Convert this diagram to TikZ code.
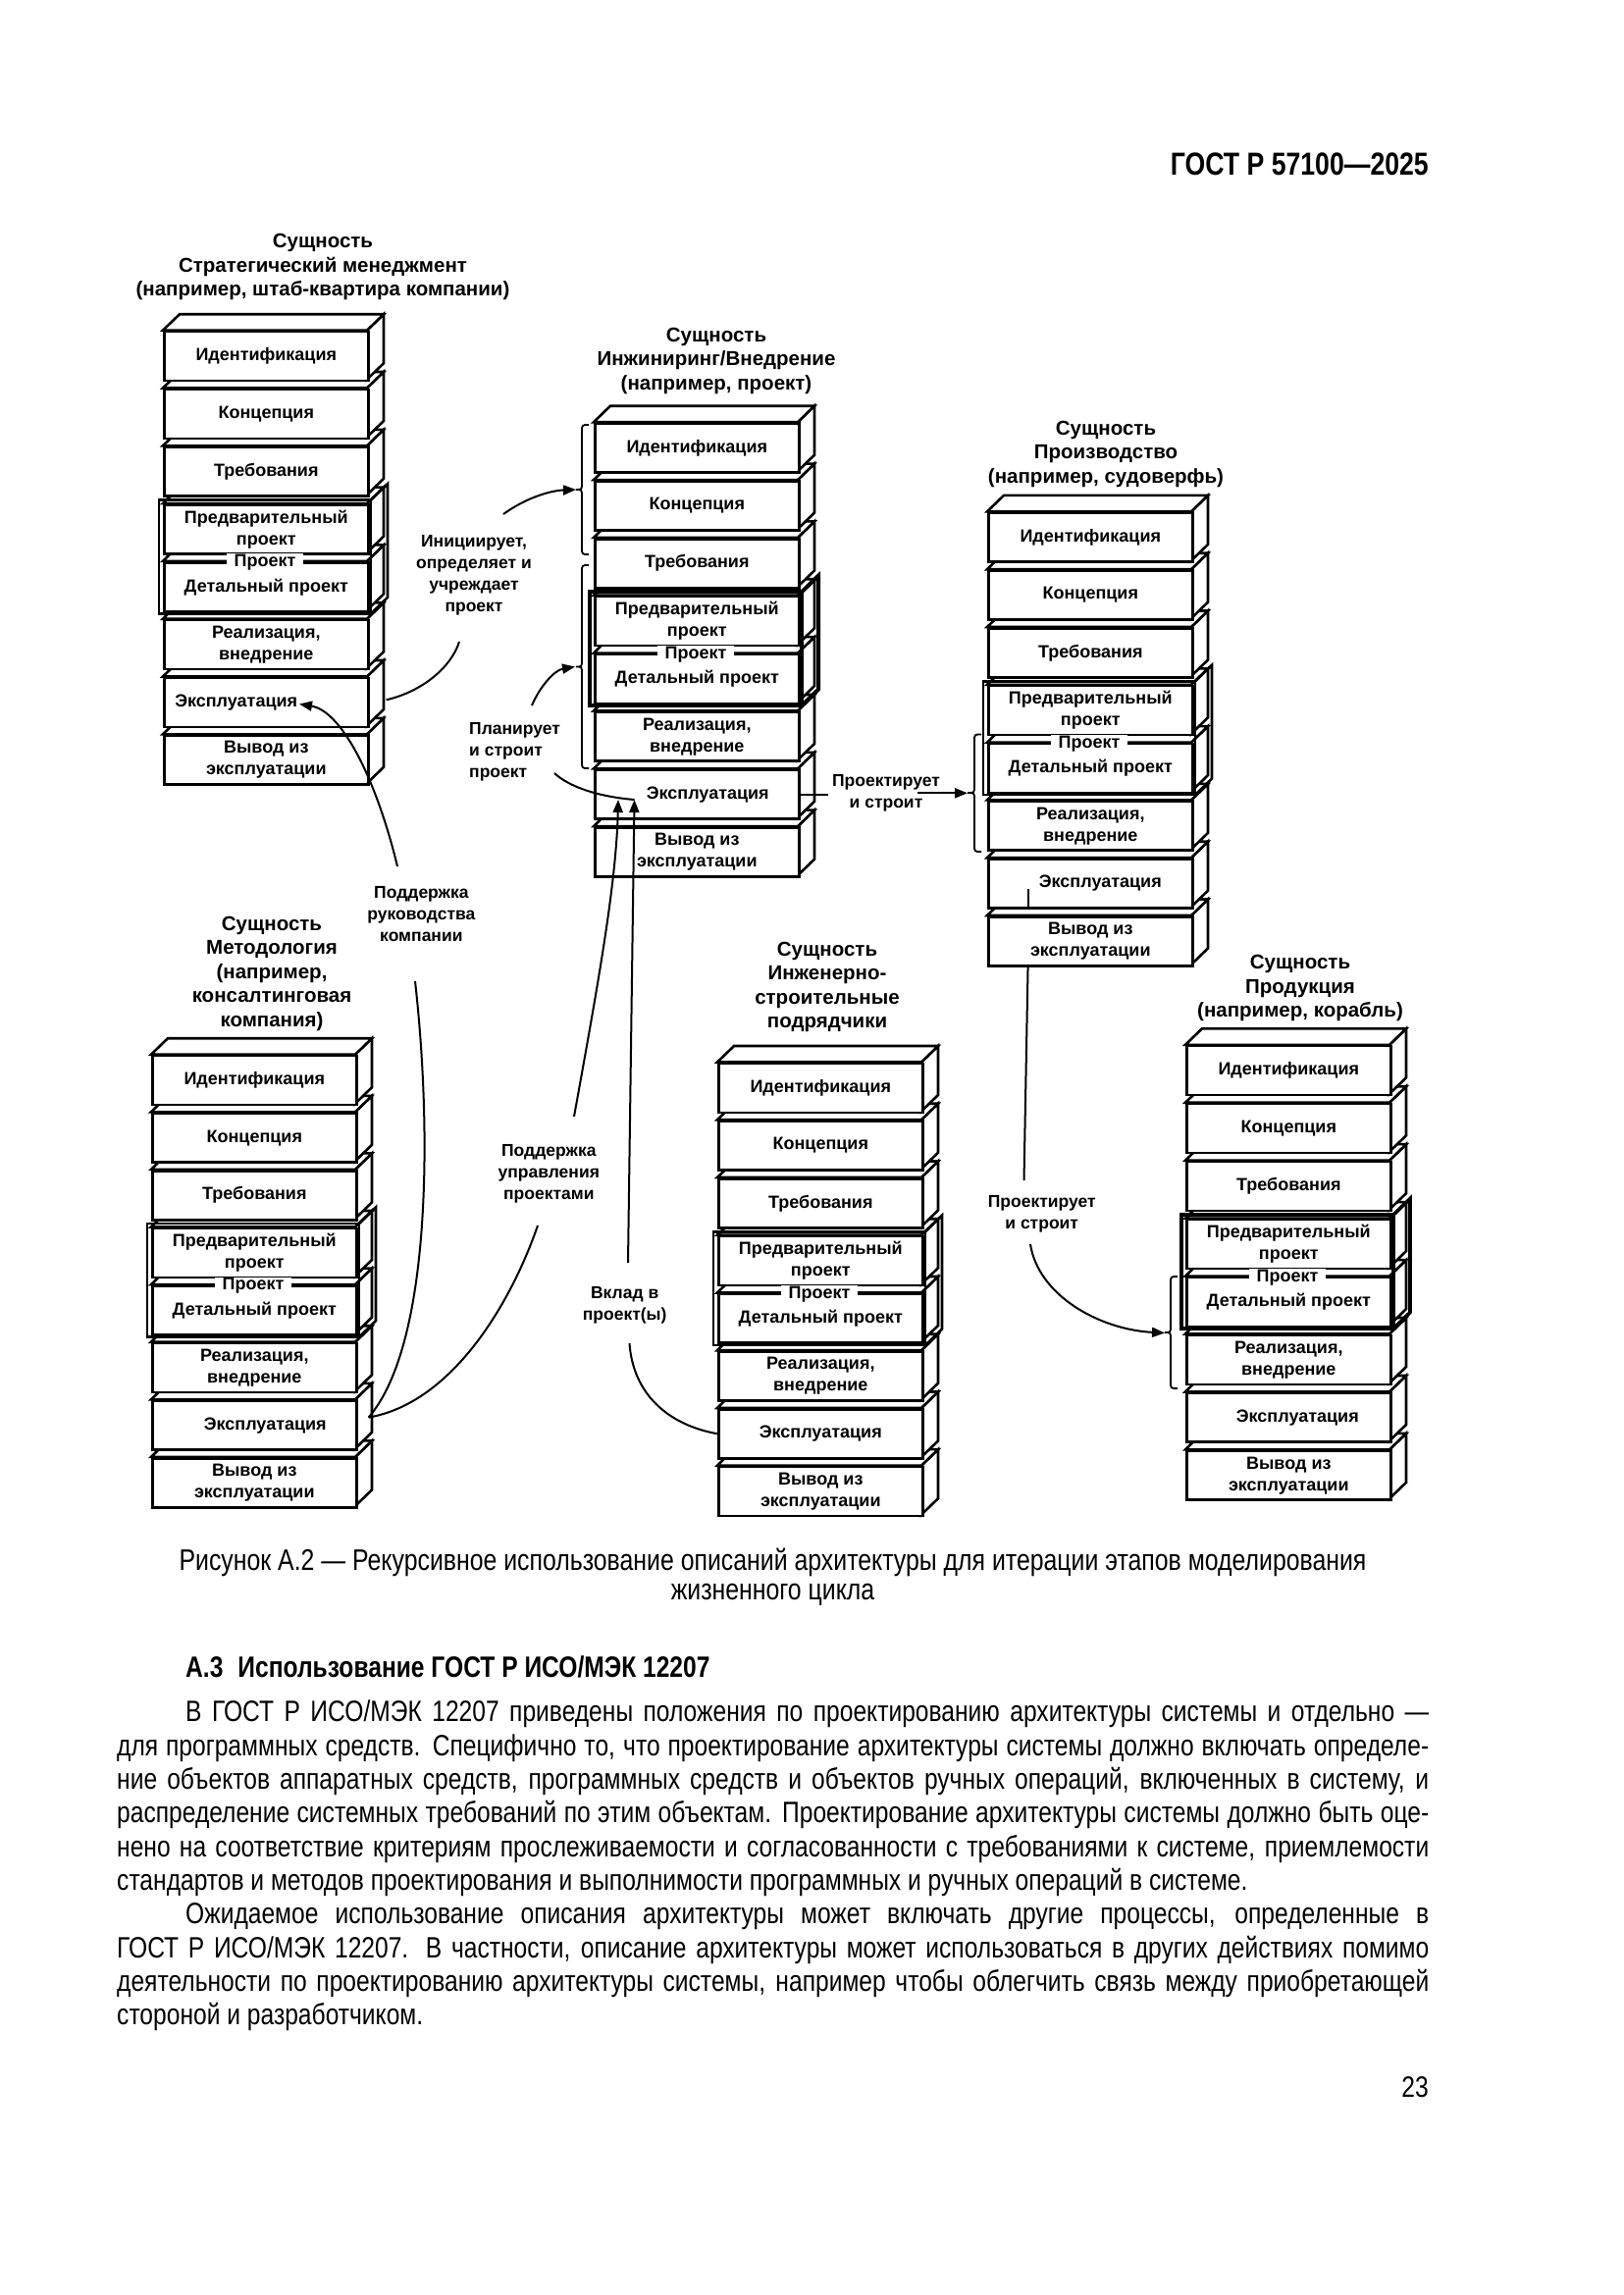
\documentclass[tikz,border=0pt]{standalone}
\usepackage{fontspec}
\setmainfont{Liberation Sans}
\newfontfamily\narrow[FakeStretch=0.82]{Liberation Sans}
\usetikzlibrary{arrows.meta,calc}
\newcommand\boxfont{\fontsize{18}{22}\selectfont\bfseries}
\newcommand\ttlfont{\fontsize{20.5}{24.5}\selectfont\bfseries}
\newcommand\lblfont{\fontsize{17.5}{22}\selectfont\bfseries}
% one cuboid: name, left x, top y, text
\newcommand\drawcube[4]{%
  \path[face] ({#2+208},{#3}) -- ++(17,-16.5) -- ++(0,50) -- ({#2+208},{#3+50}) -- cycle;
  \path[face] ({#2},{#3}) -- ++(17,-16.5) -- ++(208,0) -- ({#2+208},{#3}) -- cycle;
  \node[front] (#1) at ({#2},{#3}) {#4};
}
% stack: id, left x, top y, pitch, frame width, exploitation text
\newcommand\drawstack[6]{%
  \drawcube{#1-8}{#2}{#3+7*#4}{Вывод из\\эксплуатации}
  \drawcube{#1-7}{#2}{#3+6*#4}{#6}
  \drawcube{#1-6}{#2}{#3+5*#4}{Реализация,\\внедрение}
  \drawcube{#1-5}{#2}{#3+4*#4}{\raisebox{-5pt}{Детальный проект}}
  \drawcube{#1-4}{#2}{#3+3*#4}{Предварительный\\проект}
  \drawcube{#1-3}{#2}{#3+2*#4}{Требования}
  \drawcube{#1-2}{#2}{#3+1*#4}{Концепция}
  \drawcube{#1-1}{#2}{#3}{Идентификация}
  \draw[line width=#5] ({#2-4},{#3+3*#4-3.5}) rectangle ({#2+212},{#3+4*#4+53.5});
  \draw[line width=#5] ({#2+212},{#3+3*#4-3.5}) -- ++(17,-16.5) -- ({#2+229},{#3+4*#4+37}) -- ({#2+212},{#3+4*#4+53.5});
  \node[projlbl] (#1-p) at ({#2+104},{#3+4*#4+1.5}) {Проект};
}
% left brace: hook x, line x, tip x, top y, bottom y, mid y
\newcommand\drawbrace[6]{%
  \draw[brc] (#1,#4) .. controls (#2,#4) .. (#2,{#4+7}) -- (#2,{#6-7})
    .. controls (#2,#6) .. (#3,#6) .. controls (#2,#6) .. (#2,{#6+7})
    -- (#2,{#5-7}) .. controls (#2,#5) .. (#1,#5);
}
\begin{document}
\begin{tikzpicture}[x=1pt,y=-1pt,
  face/.style={draw, fill=white, line width=2.6pt},
  front/.style={face, minimum width=208pt, minimum height=50pt, inner sep=0pt, anchor=north west, align=center, font=\boxfont},
  projlbl/.style={fill=white, inner xsep=8pt, inner ysep=1pt, font=\boxfont},
  ttl/.style={align=center, inner sep=0pt, font=\ttlfont},
  lbl/.style={align=center, inner sep=0pt, font=\lblfont},
  con/.style={draw, line width=2pt},
  arr/.style={con, -{Triangle[length=13pt,width=10pt]}},
  brc/.style={draw, line width=1.8pt},
]
\fill[white] (0,0) rectangle (1654,2339);
\useasboundingbox (0,0) rectangle (1654,2339);

% header
\node[anchor=east, inner sep=0pt, font=\narrow\bfseries\fontsize{32.5}{36}\selectfont] (hdr) at (1456,167) {ГОСТ Р 57100—2025};

% titles
\node[ttl] (t1) at (329,272.3) {Сущность\\Стратегический менеджмент\\(например, штаб-квартира компании)};
\node[ttl] (t2) at (730,367.8) {Сущность\\Инжиниринг/Внедрение\\(например, проект)};
\node[ttl] (t3) at (1127,462.7) {Сущность\\Производство\\(например, судоверфь)};
\node[ttl] (t4) at (277,992) {Сущность\\Методология\\(например,\\консалтинговая\\компания)};
\node[ttl] (t5) at (843,1006) {Сущность\\Инженерно-\\строительные\\подрядчики};
\node[ttl] (t6) at (1325,1007.4) {Сущность\\Продукция\\(например, корабль)};

% stacks
\drawstack{s1}{166}{336.7}{58.8}{2.6pt}{\makebox[208pt][l]{\hspace{11pt}Эксплуатация}}
\drawstack{s2}{605}{430.2}{58.85}{4pt}{\hspace*{22pt}Эксплуатация}
\drawstack{s3}{1006}{521.4}{58.8}{2.6pt}{\hspace*{20pt}Эксплуатация}
\drawstack{s4}{154}{1074.7}{58.6}{2.6pt}{\hspace*{22pt}Эксплуатация}
\drawstack{s5}{731}{1082.5}{58.74}{2.6pt}{Эксплуатация}
\drawstack{s6}{1208}{1064.8}{58.94}{3.6pt}{\hspace*{18pt}Эксплуатация}

% braces
\drawbrace{600}{593}{587}{433}{565}{499}
\drawbrace{600}{593}{587}{576}{783}{679.5}
\drawbrace{1000}{993}{986}{748.5}{868}{808}
\drawbrace{1200}{1193}{1187}{1301}{1415}{1358}

% labels
\node[lbl] (linit) at (483,585.8) {Инициирует,\\определяет и\\учреждает\\проект};
\node[lbl, align=left, anchor=west] (lplan) at (478,766.7) {Планирует\\и строит\\проект};
\node[lbl] (lruk) at (429.4,931.3) {Поддержка\\руководства\\компании};
\node[lbl] (lupr) at (559.3,1196) {Поддержка\\управления\\проектами};
\node[lbl] (lvklad) at (636.7,1330.6) {Вклад в\\проект(ы)};
\node[lbl] (lproj1) at (903,808) {Проектирует\\и строит};
\node[lbl] (lproj2) at (1061.7,1237) {Проектирует\\и строит};

% connector ends
\coordinate (b1tip) at (587,499);
\coordinate (b2tip) at (586,679.5);
\coordinate (b3tip) at (986,808.3);
\coordinate (b4tip) at (1187,1358.5);
\coordinate (initin) at (468,654);
\coordinate (initout) at (513,524);
\coordinate (planout) at (542,719);
\coordinate (planin) at (565,788);
\coordinate (s2a) at (630,815);
\coordinate (s2b) at (646.5,815);
\coordinate (s1tip) at (305,717.5);
\coordinate (rukup) at (405,883);
\coordinate (rukdn) at (423,1000);
\coordinate (uprup) at (585,1138);
\coordinate (uprdn) at (548,1249);
\coordinate (vkup) at (640,1287);
\coordinate (vkdn) at (641.5,1369);
\coordinate (s4c) at ($(s4-7.east)+(11,-8)$);
\coordinate (p1l) at ($(s2-7.east)+(28,0)$);
\coordinate (p1r) at (935,808.3);
\coordinate (s3a) at (1048,906);
\coordinate (s3b) at (1048,924.2);
\coordinate (s3c) at (1047.6,983.2);
\coordinate (p2up) at (1043.5,1203);
\coordinate (p2dn) at (1050,1268);

% connectors
\draw[con] ($(s1-7.east)+(17,-2.5)$) .. controls (430,705) and (460,680) .. (initin);
\draw[arr] (initout) .. controls (535,508) and (560,500) .. (b1tip);
\draw[arr] (planout) .. controls (550,700) and (565,683) .. (b2tip);
\draw[con] (s2b) .. controls (610,812) and (580,802) .. (planin);
\draw[arr] (uprup) .. controls (610,1000) and (628,900) .. (s2a);
\draw[arr] (vkup) -- (s2b);
\draw[con] (vkdn) .. controls (645,1420) and (680,1452) .. (s5-7.west);
\draw[con] (uprdn) .. controls (520,1330) and (460,1430) .. (s4c);
\draw[con] (rukdn) .. controls (440,1150) and (440,1370) .. (s4c);
\draw[arr] (rukup) .. controls (385,800) and (350,725) .. (s1tip);
\draw[con] (s2-7.east) -- (p1l);
\draw[arr] (p1r) -- (b3tip);
\draw[con] (s3a) -- (s3b);
\draw[con] (s3c) -- (p2up);
\draw[arr] (p2dn) .. controls (1058,1320) and (1120,1355) .. (b4tip);

% caption and text
\node[align=center, inner sep=0pt, font=\narrow\fontsize{30.3}{30}\selectfont] (cap) at (787.5,1607) {Рисунок А.2 — Рекурсивное использование описаний архитектуры для итерации этапов моделирования\\жизненного цикла};
\node[anchor=west, inner sep=0pt, font=\narrow\bfseries\fontsize{30}{34}\selectfont] (sec) at (189,1699) {А.3\hspace{0.5em}Использование ГОСТ Р ИСО/МЭК 12207};
\node[anchor=north west, inner sep=0pt, text width=1337pt, align=justify, font=\narrow\fontsize{30}{34.3}\selectfont] (body) at (119,1733) {%
\hspace*{70pt}В ГОСТ Р ИСО/МЭК 12207 приведены положения по проектированию архитектуры системы и отдельно —\linebreak
для программных средств. Специфично то, что проектирование архитектуры системы должно включать определе-\linebreak
ние объектов аппаратных средств, программных средств и объектов ручных операций, включенных в систему, и\linebreak
распределение системных требований по этим объектам. Проектирование архитектуры системы должно быть оце-\linebreak
нено на соответствие критериям прослеживаемости и согласованности с требованиями к системе, приемлемости\linebreak
стандартов и методов проектирования и выполнимости программных и ручных операций в системе.\par
\hspace*{70pt}Ожидаемое использование описания архитектуры может включать другие процессы, определенные в\linebreak
ГОСТ Р ИСО/МЭК 12207. В частности, описание архитектуры может использоваться в других действиях помимо\linebreak
деятельности по проектированию архитектуры системы, например чтобы облегчить связь между приобретающей\linebreak
стороной и разработчиком.};
\node[anchor=east, inner sep=0pt, font=\narrow\fontsize{30}{34}\selectfont] (pg) at (1456,2127) {23};
\end{tikzpicture}
\end{document}
